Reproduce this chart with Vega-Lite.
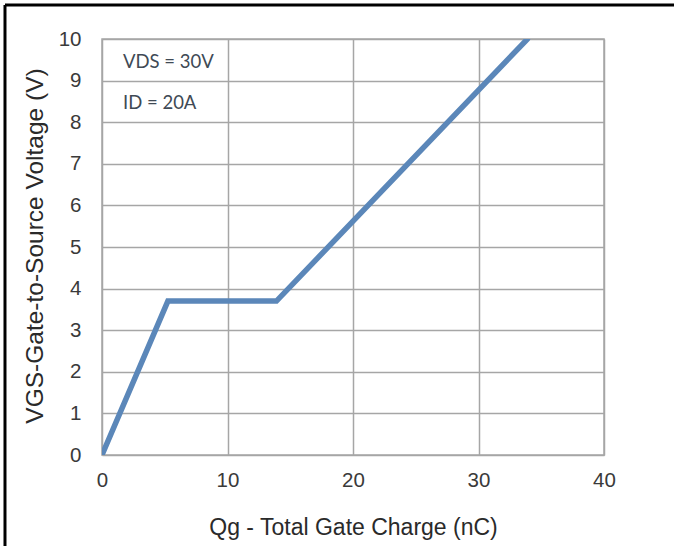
{
  "$schema": "https://vega.github.io/schema/vega-lite/v6.json",
  "width": 502,
  "height": 416,
  "autosize": {"type": "none"},
  "padding": {"left": 102, "top": 39, "right": 70, "bottom": 91},
  "background": "white",
  "config": {
    "view": {"stroke": "#a6a6a6", "strokeWidth": 1.5},
    "axis": {
      "labelFont": "Liberation Sans",
      "titleFont": "Liberation Sans",
      "labelFontSize": 20.5,
      "titleFontSize": 22,
      "labelColor": "#3a3a3a",
      "titleColor": "#2a2a2a",
      "titleFontWeight": "normal",
      "ticks": false,
      "domain": false,
      "gridColor": "#a6a6a6",
      "gridWidth": 1.5,
      "gridOpacity": 1
    }
  },
  "datasets": {
    "curve": [
      {"qg": 0, "vgs": 0},
      {"qg": 5.25, "vgs": 3.7},
      {"qg": 13.9, "vgs": 3.7},
      {"qg": 33.9, "vgs": 10}
    ],
    "notes": [
      {"label": "VDS = 30V", "qg": 1.67, "vgs": 9.45},
      {"label": "ID = 20A", "qg": 1.67, "vgs": 8.46}
    ]
  },
  "layer": [
    {
      "data": {"name": "curve"},
      "mark": {"type": "line", "color": "#5b87b9", "strokeWidth": 5.5, "strokeCap": "round", "clip": true},
      "encoding": {
        "x": {
          "field": "qg", "type": "quantitative",
          "scale": {"domain": [0, 40], "nice": false},
          "axis": {"values": [0, 10, 20, 30, 40], "labelPadding": 15, "title": "Qg - Total Gate Charge (nC)", "titleFontSize": 23, "titleY": 72, "titleBaseline": "middle", "labelFlush": false}
        },
        "y": {
          "field": "vgs", "type": "quantitative",
          "scale": {"domain": [0, 10], "nice": false},
          "axis": {"values": [0,1,2,3,4,5,6,7,8,9,10], "labelPadding": 21, "title": "VGS-Gate-to-Source Voltage (V)", "titleFontSize": 24.5, "titleX": -67, "titleY": 206.5, "titleBaseline": "middle", "labelFlush": false}
        }
      }
    },
    {
      "data": {"name": "notes"},
      "mark": {"type": "text", "align": "left", "baseline": "middle", "font": "Lato", "fontSize": 18.5, "color": "#404a55"},
      "encoding": {
        "x": {"field": "qg", "type": "quantitative"},
        "y": {"field": "vgs", "type": "quantitative"},
        "text": {"field": "label"}
      }
    },
    {
      "data": {"values": [{}]},
      "mark": {"type": "rule", "color": "black", "strokeWidth": 3, "clip": false},
      "encoding": {
        "x": {"datum": -7.73, "type": "quantitative"},
        "y": {"datum": 10.82, "type": "quantitative"},
        "y2": {"datum": -3}
      }
    },
    {
      "data": {"values": [{}]},
      "mark": {"type": "rule", "color": "black", "strokeWidth": 3, "clip": false},
      "encoding": {
        "y": {"datum": 10.82, "type": "quantitative"},
        "x": {"datum": -7.73, "type": "quantitative"},
        "x2": {"datum": 60}
      }
    }
  ]
}
